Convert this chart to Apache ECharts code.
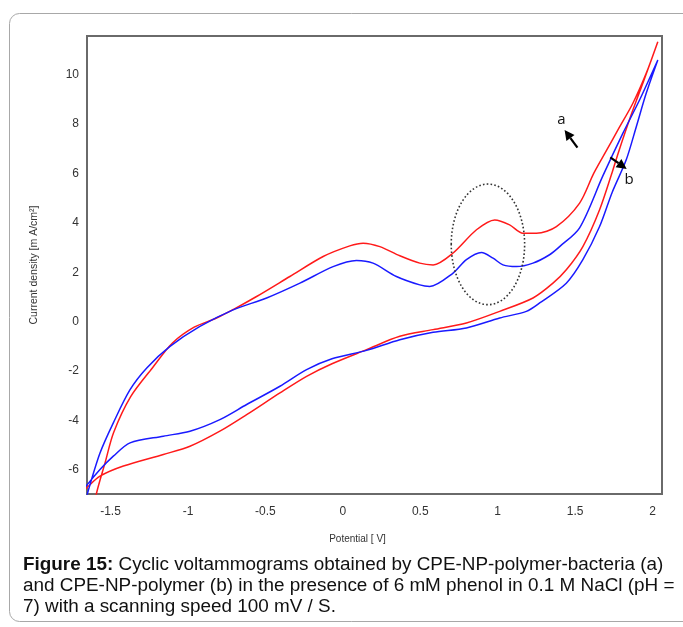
<!DOCTYPE html>
<html>
<head>
<meta charset="utf-8">
<script src="https://cdn.jsdelivr.net/npm/echarts@6/dist/echarts.min.js"></script>
<style>
  html, body { margin: 0; padding: 0; background: #fff; }
  #chart { width: 683px; height: 627px; }
</style>
</head>
<body>
<div id="chart"></div>
<script>
// ---- Data (Potential [V], Current density [mA/cm2]) ----
// Curve a: CPE-NP-polymer-bacteria (red), forward scan then reverse scan
const redX = [-1.61, -1.589, -1.535, -1.48, -1.37, -1.23, -1.10, -0.96, -0.815, -0.70, -0.557, -0.342, -0.127, 0.045, 0.131, 0.239, 0.368, 0.497, 0.583, 0.712, 0.863, 0.981, 1.077, 1.163, 1.25, 1.379, 1.529, 1.62, 1.70, 1.78, 1.873, 1.959, 2.034,
              1.945, 1.858, 1.778, 1.744, 1.658, 1.55, 1.443, 1.357, 1.228, 1.013, 0.798, 0.583, 0.368, 0.153, -0.07, -0.234, -0.406, -0.621, -0.794, -0.987, -1.159, -1.417, -1.568, -1.654, -1.69];
const redY = [-7.6, -6.90, -5.70, -4.48, -3.03, -1.87, -0.86, -0.22, 0.15, 0.52, 1.02, 1.83, 2.64, 3.07, 3.18, 3.04, 2.67, 2.37, 2.30, 2.78, 3.72, 4.12, 3.92, 3.58, 3.58, 3.85, 4.80, 6.0, 6.9, 7.8, 8.84, 10.05, 11.33,
              9.78, 8.30, 6.82, 6.14, 4.53, 3.04, 2.10, 1.56, 0.96, 0.42, -0.05, -0.32, -0.59, -1.13, -1.70, -2.21, -2.88, -3.76, -4.43, -5.04, -5.37, -5.84, -6.25, -6.72, -6.95];
// Curve b: CPE-NP-polymer (blue), forward scan then reverse scan
const blueX = [-1.66, -1.645, -1.568, -1.482, -1.374, -1.266, -1.116, -0.923, -0.708, -0.492, -0.277, -0.063, 0.088, 0.195, 0.346, 0.497, 0.561, 0.712, 0.798, 0.895, 0.97, 1.034, 1.121, 1.228, 1.335, 1.4, 1.529, 1.679, 1.808, 1.916, 2.034,
               1.959, 1.895, 1.830, 1.739, 1.658, 1.55, 1.443, 1.271, 1.185, 1.013, 0.798, 0.583, 0.368, 0.153, -0.07, -0.234, -0.406, -0.621, -0.794, -0.987, -1.159, -1.374, -1.482, -1.568, -1.654, -1.69];
const blueY = [-7.3, -6.86, -5.31, -4.09, -2.75, -1.87, -1.0, -0.19, 0.48, 0.96, 1.56, 2.23, 2.48, 2.37, 1.83, 1.49, 1.43, 1.97, 2.51, 2.80, 2.57, 2.30, 2.23, 2.37, 2.71, 3.04, 3.80, 5.90, 7.62, 8.97, 10.59,
               9.24, 7.89, 6.55, 5.23, 3.85, 2.51, 1.56, 0.76, 0.42, 0.15, -0.25, -0.43, -0.73, -1.16, -1.50, -1.94, -2.61, -3.35, -3.96, -4.43, -4.63, -4.90, -5.44, -5.98, -6.62, -6.95];
// Axis tick labels
const xTicks = [-1.5, -1, -0.5, 0, 0.5, 1, 1.5, 2];
const yTicks = [-6, -4, -2, 0, 2, 4, 6, 8, 10];
// Caption text
const captionBold = 'Figure 15:';
const captionLines = [
  ' Cyclic voltammograms obtained by CPE-NP-polymer-bacteria (a)',
  'and CPE-NP-polymer (b) in the presence of 6 mM phenol in 0.1 M NaCl (pH =',
  '7) with a scanning speed 100 mV / S.'
];

// ---- Annotations (in data coordinates) ----
const peakEllipse = { cx: 0.937, cy: 3.13, rx: 0.237, ry: 2.44 };
const arrowA = { from: [1.515, 7.04], to: [1.432, 7.76], label: 'a', labelAt: [1.411, 8.19] };
const arrowB = { from: [1.727, 6.65], to: [1.833, 6.18], label: 'b', labelAt: [1.849, 5.74] };

function pairs(xs, ys) { return xs.map((x, i) => [x, ys[i]]); }

const chart = echarts.init(document.getElementById('chart'), null, { renderer: 'canvas' });
const axisFont = 'Liberation Sans Narrow, Liberation Sans, Arial, sans-serif';

chart.setOption({
  animation: false,
  backgroundColor: '#fff',
  grid: {
    left: 87, right: 21, top: 36, bottom: 133,
    show: true, borderColor: '#6a6a6a', borderWidth: 2, backgroundColor: '#fff'
  },
  xAxis: {
    type: 'value', min: -1.652, max: 2.061,
    name: 'Potential [ V]', nameLocation: 'middle', nameGap: 40,
    nameTextStyle: { fontFamily: axisFont, fontSize: 10, color: '#333', padding: [0, 34, 0, 0] },
    axisLine: { show: false }, axisTick: { show: false }, splitLine: { show: false },
    axisLabel: { customValues: xTicks, margin: 12, fontFamily: axisFont, fontSize: 12, color: '#333' }
  },
  yAxis: {
    type: 'value', min: -6.97, max: 11.56,
    name: 'Current density [m A/cm²]', nameLocation: 'middle', nameGap: 47,
    nameTextStyle: { fontFamily: axisFont, fontSize: 10.5, color: '#333' },
    axisLine: { show: false }, axisTick: { show: false }, splitLine: { show: false },
    axisLabel: { customValues: yTicks, margin: 8, fontFamily: axisFont, fontSize: 12, color: '#333' }
  },
  series: [
    { name: 'a', type: 'line', data: pairs(redX, redY), showSymbol: false, smooth: 0.3, clip: true,
      lineStyle: { color: '#ff1a1a', width: 1.5 } },
    { name: 'b', type: 'line', data: pairs(blueX, blueY), showSymbol: false, smooth: 0.3, clip: true,
      lineStyle: { color: '#1a1aff', width: 1.5 } }
  ]
});

function px(p) { return chart.convertToPixel({ gridIndex: 0 }, p); }

function arrow(a) {
  const p0 = px(a.from), p1 = px(a.to);
  const dx = p1[0] - p0[0], dy = p1[1] - p0[1];
  const len = Math.sqrt(dx * dx + dy * dy);
  const ux = dx / len, uy = dy / len;
  const hl = 10, hw = 5;
  const bx = p1[0] - ux * hl, by = p1[1] - uy * hl;
  const lp = px(a.labelAt);
  return [
    { type: 'line', shape: { x1: p0[0], y1: p0[1], x2: bx, y2: by }, style: { stroke: '#000', lineWidth: 2.2 }, z: 100 },
    { type: 'polygon', shape: { points: [[p1[0], p1[1]], [bx - uy * hw, by + ux * hw], [bx + uy * hw, by - ux * hw]] }, style: { fill: '#000' }, z: 100 },
    { type: 'text', x: lp[0], y: lp[1], style: { text: a.label, fontFamily: 'Open Sans, Liberation Sans, sans-serif', fontSize: 15, fill: '#111', align: 'center', verticalAlign: 'middle' }, z: 100 }
  ];
}

const c = px([peakEllipse.cx, peakEllipse.cy]);
const e1 = px([peakEllipse.cx + peakEllipse.rx, peakEllipse.cy + peakEllipse.ry]);
const rx = Math.abs(e1[0] - c[0]), ry = Math.abs(e1[1] - c[1]);

const captionFont = 'Liberation Sans, Arial, sans-serif';
const capSize = 18.9;
const graphics = [
  { type: 'rect', shape: { x: 9.5, y: 13.5, width: 700, height: 608, r: 10 }, style: { fill: 'none', stroke: '#a8a8a8', lineWidth: 1 }, z: -10, silent: true },
  { type: 'ellipse', shape: { cx: c[0], cy: c[1], rx: rx, ry: ry }, style: { fill: 'none', stroke: '#333', lineWidth: 1.6, lineDash: [1.6, 2.2] }, z: 100 },
  ...arrow(arrowA),
  ...arrow(arrowB),
  { type: 'text', left: 23, top: 555, style: {
      rich: { b: { fontWeight: 'bold', fontFamily: captionFont, fontSize: capSize, fill: '#111' },
              n: { fontFamily: captionFont, fontSize: capSize, fill: '#111' } },
      text: '{b|' + captionBold + '}{n|' + captionLines[0] + '}' } },
  { type: 'text', left: 23, top: 576, style: { text: captionLines[1], fontFamily: captionFont, fontSize: capSize, fill: '#111' } },
  { type: 'text', left: 23, top: 597, style: { text: captionLines[2], fontFamily: captionFont, fontSize: capSize, fill: '#111' } }
];
chart.setOption({ graphic: graphics });
</script>
</body>
</html>
